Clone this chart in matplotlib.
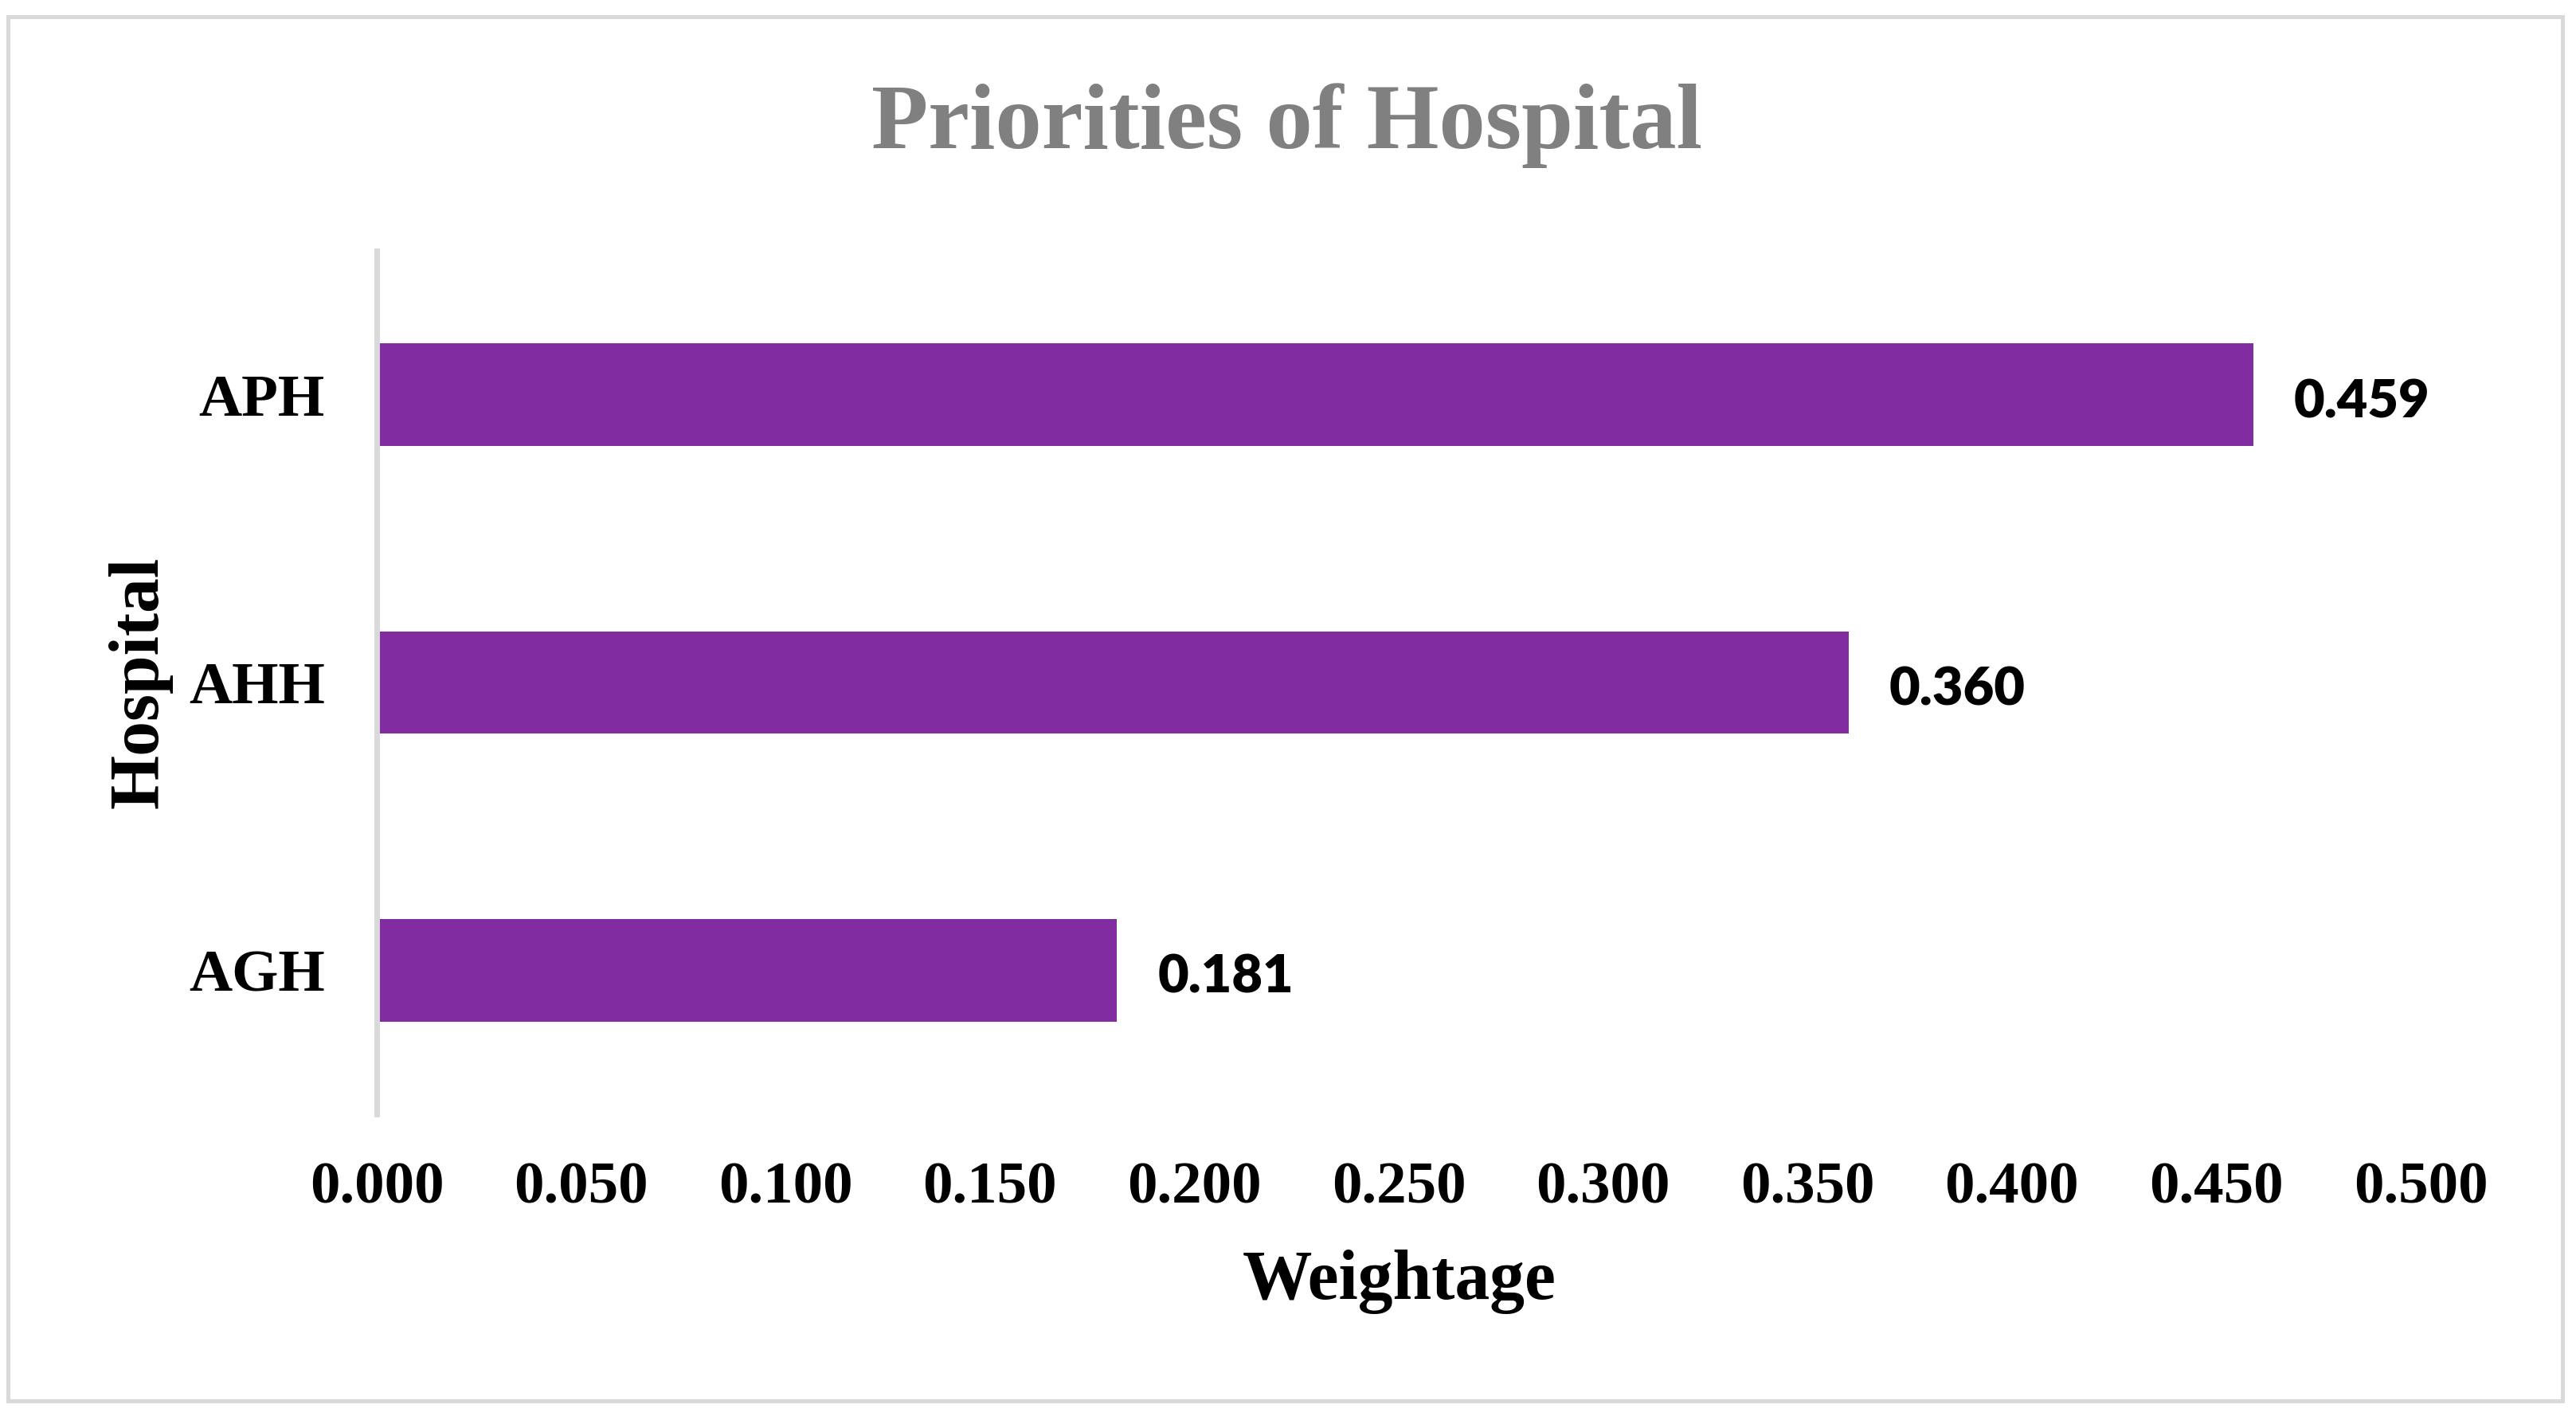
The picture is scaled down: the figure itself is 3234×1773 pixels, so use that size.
import matplotlib
matplotlib.use("Agg")
import matplotlib.pyplot as plt
from matplotlib.patches import Rectangle

categories = ["AGH", "AHH", "APH"]
weights = [0.181, 0.360, 0.459]
xticks = [0.0, 0.05, 0.10, 0.15, 0.20, 0.25, 0.30, 0.35, 0.40, 0.45, 0.50]

W, H = 3234, 1773
DPI = 100
fig = plt.figure(figsize=(W / DPI, H / DPI), dpi=DPI)
fig.patch.set_facecolor("white")

serif = "Liberation Serif"
bar_color = "#812CA0"
grey = "#D9D9D9"

# outer border
fig.patches.append(Rectangle((10 / W, 14 / H), (3217 - 10) / W, (1752 - 14) / H,
                             transform=fig.transFigure, fill=False,
                             edgecolor=grey, linewidth=3.6, zorder=0))

ax = fig.add_axes([473 / W, 374 / H, (3039 - 473) / W, (1399 - 315) / H])
ypos = list(range(len(categories)))
bars = ax.barh(ypos, weights, height=0.357, color=bar_color, zorder=2)
ax.set_xlim(0, 0.5)
ax.set_ylim(-0.5, len(categories) - 0.5)
ax.set_xticks(xticks)
ax.set_xticklabels([f"{v:.3f}" for v in xticks], fontfamily=serif,
                   fontweight="bold", fontsize=54)
ax.set_yticks(ypos)
ax.set_yticklabels(categories, fontfamily=serif, fontweight="bold", fontsize=54)
ax.tick_params(axis="x", length=0, pad=43)
ax.tick_params(axis="y", length=0, pad=47)
for s in ["top", "right", "bottom"]:
    ax.spines[s].set_visible(False)
ax.spines["left"].set_color(grey)
ax.spines["left"].set_linewidth(5)
ax.spines["left"].set_zorder(3)

for b, v in zip(bars, weights):
    ax.annotate(f"{v:.3f}", xy=(b.get_width(), b.get_y() + b.get_height() / 2),
                xytext=(37, -6.5), textcoords="offset points", va="center", ha="left",
                fontfamily="Lato", fontweight="heavy", fontsize=48, color="black")

fig.text(1615 / W, 1 - 186 / H, "Priorities of Hospital", ha="center", va="baseline",
         fontfamily=serif, fontweight="bold", fontsize=84, color="#808080")
fig.text(1757 / W, 1 - 1631 / H, "Weightage", ha="center", va="baseline",
         fontfamily=serif, fontweight="bold", fontsize=63, color="black")
fig.text(197 / W, 1 - 857 / H, "Hospital", ha="center", va="baseline", rotation=90,
         rotation_mode="anchor", fontfamily=serif, fontweight="bold", fontsize=63,
         color="black")

fig.savefig("out.png", dpi=DPI, facecolor="white")
